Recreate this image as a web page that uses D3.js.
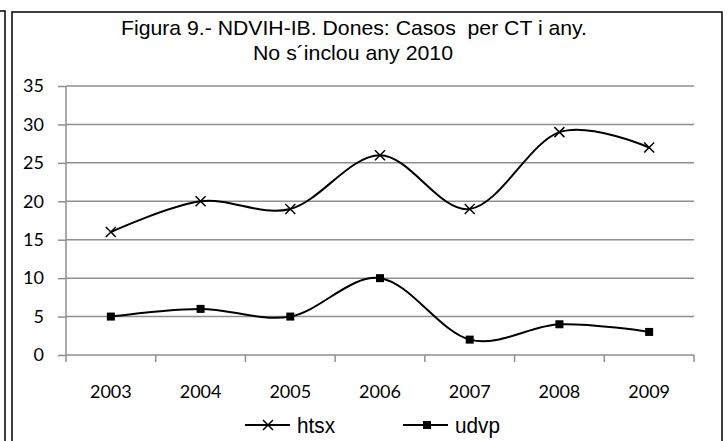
<!DOCTYPE html>
<html>
<head>
<meta charset="utf-8">
<script src="https://cdn.jsdelivr.net/npm/d3@7"></script>
<style>
  body { margin: 0; background: #fff; }
  svg { display: block; }
</style>
</head>
<body>
<div id="container"></div>
<script>
/* Data */
var years = ['2003', '2004', '2005', '2006', '2007', '2008', '2009'];
var htsx = [16, 20, 19, 26, 19, 29, 27];
var udvp = [5, 6, 5, 10, 2, 4, 3];
var yTicks = [0, 5, 10, 15, 20, 25, 30, 35];
var titleLines = ['Figura 9.- NDVIH-IB. Dones: Casos  per CT i any.', 'No s\u00b4inclou any 2010'];

var w = 728, h = 441;
var margin = { left: 66, right: 34, top: 86, bottom: 86 };
var narrow = '"Liberation Sans Narrow", "Liberation Sans", Arial, sans-serif';

var svg = d3.select('#container').append('svg')
	.attr('width', w)
	.attr('height', h);

/* frames */
svg.append('path')
	.attr('d', 'M0,11H5V' + (h + 5))
	.attr('fill', 'none')
	.attr('stroke', '#000')
	.attr('stroke-width', 1.5);
svg.append('rect')
	.attr('x', 12).attr('y', 12)
	.attr('width', 710).attr('height', h)
	.attr('fill', 'none')
	.attr('stroke', '#000')
	.attr('stroke-width', 1.5);

/* Scales */
var xScale = d3.scaleBand()
	.domain(years)
	.range([margin.left, w - margin.right]);
var yScale = d3.scaleLinear()
	.domain([0, 35])
	.range([h - margin.bottom, margin.top]);

/* gridlines */
svg.append('g')
	.selectAll('line')
	.data(yTicks.filter(d => d > 0))
	.enter().append('line')
	.attr('x1', margin.left).attr('x2', w - margin.right)
	.attr('y1', d => yScale(d)).attr('y2', d => yScale(d))
	.attr('stroke', '#8f8f8f')
	.attr('stroke-width', 1.5);

/* Y-Axis */
var yAxis = d3.axisLeft(yScale).tickValues(yTicks).tickSize(8).tickPadding(14);
svg.append('g')
	.attr('transform', 'translate(' + margin.left + ',0)')
	.call(yAxis)
	.call(g => g.selectAll('line, path').attr('stroke', '#8f8f8f').attr('stroke-width', 1.5))
	.call(g => g.select('.domain').attr('d', 'M0,' + yScale(35) + 'V' + yScale(0)))
	.selectAll('text')
		.attr('fill', '#000')
		.style('font-family', 'Lato, "Open Sans", sans-serif')
		.style('font-size', '18px');

/* X-Axis (ticks at band edges) */
var edges = years.map(d => xScale(d)).concat([w - margin.right]);
var xg = svg.append('g');
xg.append('line')
	.attr('x1', margin.left).attr('x2', w - margin.right)
	.attr('y1', yScale(0)).attr('y2', yScale(0))
	.attr('stroke', '#8f8f8f').attr('stroke-width', 1.5);
xg.selectAll('.tick')
	.data(edges)
	.enter().append('line')
	.attr('x1', d => d).attr('x2', d => d)
	.attr('y1', yScale(0)).attr('y2', yScale(0) + 7)
	.attr('stroke', '#8f8f8f').attr('stroke-width', 1.5);
xg.selectAll('text')
	.data(years)
	.enter().append('text')
	.attr('x', d => xScale(d) + xScale.bandwidth() / 2)
	.attr('y', yScale(0) + 43)
	.attr('text-anchor', 'middle')
	.style('font-family', 'Lato, "Open Sans", sans-serif')
	.style('font-size', '18px')
	.text(d => d);

/* lines */
var cx = (d, i) => xScale(years[i]) + xScale.bandwidth() / 2;
var line = d3.line()
	.x(cx)
	.y(d => yScale(d))
	.curve(d3.curveCatmullRom.alpha(0));

svg.append('path')
	.datum(htsx)
	.attr('d', line)
	.attr('fill', 'none')
	.attr('stroke', '#000')
	.attr('stroke-width', 2);
svg.append('path')
	.datum(udvp)
	.attr('d', line)
	.attr('fill', 'none')
	.attr('stroke', '#000')
	.attr('stroke-width', 2);

// x markers
function cross(x, y) {
	return 'M' + (x - 5) + ',' + (y - 5) + 'L' + (x + 5) + ',' + (y + 5) +
		'M' + (x - 5) + ',' + (y + 5) + 'L' + (x + 5) + ',' + (y - 5);
}
svg.append('g').selectAll('path')
	.data(htsx)
	.enter().append('path')
	.attr('d', (d, i) => cross(cx(d, i), yScale(d)))
	.attr('stroke', '#000')
	.attr('stroke-width', 1.5);

// square markers
svg.append('g').selectAll('rect')
	.data(udvp)
	.enter().append('rect')
	.attr('x', (d, i) => cx(d, i) - 4)
	.attr('y', d => yScale(d) - 4)
	.attr('width', 8).attr('height', 8)
	.attr('fill', '#000');

/* title */
var title = svg.append('g')
	.style('font-family', narrow)
	.style('font-size', '21px')
	.attr('fill', '#000');
title.append('text')
	.attr('x', 121).attr('y', 35)
	.attr('textLength', 466)
	.attr('lengthAdjust', 'spacingAndGlyphs')
	.style('white-space', 'pre')
	.text(titleLines[0]);
title.append('text')
	.attr('x', 253).attr('y', 60)
	.attr('textLength', 200)
	.attr('lengthAdjust', 'spacingAndGlyphs')
	.text(titleLines[1]);

/* legend */
var legendY = 425;
var lg = svg.append('g')
	.style('font-family', narrow)
	.style('font-size', '22px');
lg.append('line')
	.attr('x1', 245).attr('x2', 290)
	.attr('y1', legendY).attr('y2', legendY)
	.attr('stroke', '#000').attr('stroke-width', 2);
lg.append('path')
	.attr('d', cross(268, legendY))
	.attr('stroke', '#000').attr('stroke-width', 1.5);
lg.append('text')
	.attr('x', 297).attr('y', legendY + 8)
	.attr('textLength', 38)
	.attr('lengthAdjust', 'spacingAndGlyphs')
	.text('htsx');
lg.append('line')
	.attr('x1', 403).attr('x2', 448)
	.attr('y1', legendY).attr('y2', legendY)
	.attr('stroke', '#000').attr('stroke-width', 2);
lg.append('rect')
	.attr('x', 423).attr('y', legendY - 4)
	.attr('width', 8).attr('height', 8)
	.attr('fill', '#000');
lg.append('text')
	.attr('x', 455).attr('y', legendY + 8)
	.attr('textLength', 45)
	.attr('lengthAdjust', 'spacingAndGlyphs')
	.text('udvp');
</script>
</body>
</html>
